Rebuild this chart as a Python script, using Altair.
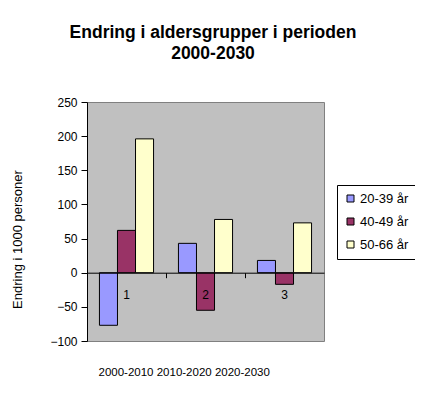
import altair as alt
import pandas as pd

periods = ["2000-2010", "2010-2020", "2020-2030"]
groups = ["20-39 år", "40-49 år", "50-66 år"]
v_20_39 = [-77, 43, 18]
v_40_49 = [62, -55, -17]
v_50_66 = [196, 78, 73]
colors = ["#9999FF", "#993366", "#FFFFCC"]
y_ticks = [-100, -50, 0, 50, 100, 150, 200, 250]

rows = []
for g, vals in zip(groups, [v_20_39, v_40_49, v_50_66]):
    for p, v in zip(periods, vals):
        rows.append({"periode": p, "gruppe": g, "endring": v})
df = pd.DataFrame(rows)

font = "Liberation Sans"
period_list = "[" + ",".join("'" + p + "'" for p in periods) + "]"

bars = alt.Chart(df).mark_bar(stroke="black", strokeWidth=1).encode(
    x=alt.X(
        "periode:N",
        sort=periods,
        scale=alt.Scale(paddingInner=0, paddingOuter=0),
        axis=alt.Axis(
            title=" ".join(periods),
            titleFont=font,
            titleFontSize=11.5,
            titleFontWeight="normal",
            titleColor="black",
            titleX=11,
            titleY=103,
            titleAlign="left",
            titleBaseline="alphabetic",
            offset=-68.3,
            zindex=1,
            domainColor="black",
            tickColor="black",
            tickSize=5,
            bandPosition=0,
            labelPadding=12,
            labelAngle=0,
            labelFont=font,
            labelFontSize=12,
            labelColor="black",
            labelOverlap=False,
            labelExpr="'' + (indexof(" + period_list + ", datum.value) + 1)",
        ),
    ),
    xOffset=alt.XOffset(
        "gruppe:N", sort=groups, scale=alt.Scale(paddingInner=0, paddingOuter=0.69)
    ),
    y=alt.Y(
        "endring:Q",
        scale=alt.Scale(domain=[-100, 250], nice=False, zero=False),
        axis=alt.Axis(
            values=y_ticks,
            grid=False,
            title="Endring i 1000 personer",
            titleFont=font,
            titleFontSize=13,
            titleFontWeight="normal",
            titleColor="black",
            titleAngle=270,
            titleX=-70,
            titleY=137,
            titleAlign="center",
            titleBaseline="middle",
            domainColor="black",
            tickColor="black",
            tickSize=6,
            labelPadding=4,
            labelFont=font,
            labelFontSize=12,
            labelColor="black",
        ),
    ),
    color=alt.Color(
        "gruppe:N",
        sort=groups,
        scale=alt.Scale(domain=groups, range=colors),
        legend=alt.Legend(
            title=None,
            orient="none",
            legendX=250,
            legendY=83,
            strokeColor="black",
            fillColor="white",
            padding=7,
            rowPadding=9,
            symbolType="square",
            symbolSize=49,
            symbolStrokeColor="black",
            symbolStrokeWidth=1,
            labelFont=font,
            labelFontSize=13,
            labelColor="black",
            labelOffset=3,
        ),
    ),
)

chart = bars.properties(
    width=237,
    height=239,
    autosize=alt.AutoSizeParams(type="none"),
    padding={"left": 79, "top": 94, "right": 91, "bottom": 50},
    title=alt.TitleParams(
        text=["Endring i aldersgrupper i perioden", "2000-2030"],
        font=font,
        fontSize=17.5,
        fontWeight="bold",
        color="black",
        anchor="middle",
        dx=7.5,
        offset=33,
        lineHeight=21.6,
    ),
).configure_view(fill="#C0C0C0", stroke="#808080")

chart.save("out.html", embed_options={"renderer": "svg", "actions": False})
